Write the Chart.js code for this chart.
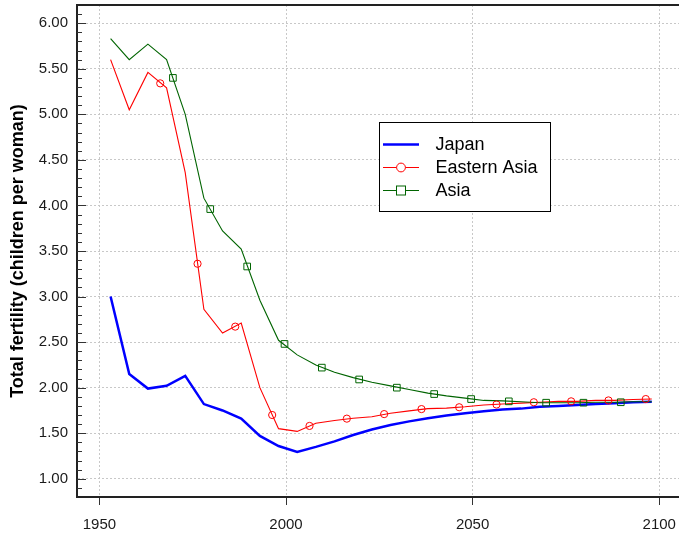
<!DOCTYPE html>
<html>
<head>
<meta charset="utf-8">
<title>Total fertility</title>
<script src="https://cdn.jsdelivr.net/npm/chart.js@4/dist/chart.umd.min.js"></script>
<style>
  html, body { margin: 0; padding: 0; background: #ffffff; }
  #wrap { width: 679px; height: 535px; }
</style>
</head>
<body>
<div id="wrap"><canvas id="fertChart" width="679" height="535"></canvas></div>
<script>
// ---------------------------------------------------------------
// Data (5-year periods)
// ---------------------------------------------------------------
const YEARS = [1953, 1958, 1963, 1968, 1973, 1978, 1983, 1988, 1993, 1998,
               2003, 2008, 2013, 2018, 2023, 2028, 2033, 2038, 2043, 2048,
               2053, 2058, 2063, 2068, 2073, 2078, 2083, 2088, 2093, 2098];

const JAPAN = [3.00, 2.15, 1.99, 2.02, 2.13, 1.82, 1.75, 1.66, 1.47, 1.36,
               1.295, 1.35, 1.41, 1.48, 1.54, 1.59, 1.63, 1.665, 1.695, 1.72,
               1.74, 1.76, 1.77, 1.79, 1.80, 1.81, 1.82, 1.83, 1.84, 1.845];

const EASTERN_ASIA = [5.60, 5.05, 5.46, 5.29, 4.36, 2.86, 2.60, 2.71, 2.00, 1.55,
                      1.52, 1.61, 1.64, 1.665, 1.68, 1.72, 1.745, 1.77, 1.775, 1.79,
                      1.81, 1.82, 1.83, 1.84, 1.85, 1.85, 1.86, 1.86, 1.87, 1.875];

const ASIA = [5.83, 5.60, 5.77, 5.60, 5.00, 4.08, 3.72, 3.52, 2.96, 2.52,
              2.36, 2.25, 2.17, 2.11, 2.06, 2.02, 1.98, 1.94, 1.91, 1.885,
              1.86, 1.855, 1.845, 1.835, 1.835, 1.835, 1.84, 1.84, 1.845, 1.845];

// symbols sit on the lines every 10 years, offset from the data points
const EA_MARK_YEARS = [1966.3, 1976.3, 1986.4, 1996.3, 2006.3, 2016.3, 2026.3,
                       2036.3, 2046.4, 2056.4, 2066.4, 2076.4, 2086.4, 2096.4];
const EA_MARK_VALUES = [5.34, 3.36, 2.67, 1.70, 1.58, 1.66, 1.71,
                        1.765, 1.785, 1.815, 1.84, 1.85, 1.86, 1.875];

const ASIA_MARK_YEARS = [1969.7, 1979.7, 1989.6, 1999.6, 2009.6, 2019.6, 2029.7,
                         2039.7, 2049.6, 2059.7, 2069.7, 2079.7, 2089.7];
const ASIA_MARK_VALUES = [5.40, 3.96, 3.33, 2.48, 2.22, 2.09, 2.00,
                          1.93, 1.875, 1.85, 1.835, 1.835, 1.84];

const X_TICKS = [1950, 2000, 2050, 2100];
const Y_TICKS = [1.0, 1.5, 2.0, 2.5, 3.0, 3.5, 4.0, 4.5, 5.0, 5.5, 6.0];

const LEGEND_LABELS = ['Japan', 'Eastern Asia', 'Asia'];
const Y_TITLE = 'Total fertility (children per woman)';

// ---------------------------------------------------------------
// Style
// ---------------------------------------------------------------
const FONT = "'Liberation Sans', Arial, sans-serif";
const COLORS = {
    japan: '#0000ff',
    eastAsia: '#ff0000',
    asia: '#006400',
    axis: '#222222',
    grid: '#c8c8c8',
    text: '#1a1a1a'
};

const toPoints = (xs, ys) => xs.map((x, i) => ({ x: x, y: ys[i] }));

// no extra room for half tick labels: the plot runs to the canvas edge
const noLabelPadding = s => {
    s.paddingTop = 0;
    s.paddingBottom = 0;
    s.paddingLeft = 0;
    s.paddingRight = 0;
};

// frame top line, inward y ticks and the boxed legend
const decorPlugin = {
    id: 'decor',
    afterDraw(chart) {
        const ctx = chart.ctx;
        const area = chart.chartArea;
        const yScale = chart.scales.y;

        ctx.save();
        // top border
        ctx.strokeStyle = COLORS.axis;
        ctx.lineWidth = 2;
        ctx.beginPath();
        ctx.moveTo(area.left - 1, area.top);
        ctx.lineTo(area.right, area.top);
        ctx.stroke();

        // y ticks (major every 0.5, minor every 0.1), pointing inwards
        ctx.lineWidth = 1;
        ctx.strokeStyle = '#333333';
        for (let k = 9; k <= 61; k++) {
            const y = Math.round(yScale.getPixelForValue(k / 10)) + 0.5;
            const len = (k % 5 === 0) ? 9 : 5;
            ctx.beginPath();
            ctx.moveTo(area.left, y);
            ctx.lineTo(area.left + len, y);
            ctx.stroke();
        }

        // legend box
        const bx = 379.5, by = 122.5, bw = 171, bh = 89;
        ctx.fillStyle = '#ffffff';
        ctx.fillRect(bx, by, bw, bh);
        ctx.strokeStyle = '#000000';
        ctx.lineWidth = 1;
        ctx.strokeRect(bx, by, bw, bh);

        const rows = [
            { color: COLORS.japan, width: 2.5, marker: null },
            { color: COLORS.eastAsia, width: 1, marker: 'circle' },
            { color: COLORS.asia, width: 1, marker: 'square' }
        ];
        const rowY = [144.5, 167.5, 190.5];
        rows.forEach((r, i) => {
            const y = rowY[i];
            ctx.strokeStyle = r.color;
            ctx.lineWidth = r.width;
            ctx.beginPath();
            ctx.moveTo(383, y);
            ctx.lineTo(419, y);
            ctx.stroke();
            ctx.lineWidth = 1;
            if (r.marker === 'circle') {
                ctx.fillStyle = '#ffffff';
                ctx.beginPath();
                ctx.arc(401, y, 4.4, 0, Math.PI * 2);
                ctx.fill();
                ctx.stroke();
            } else if (r.marker === 'square') {
                ctx.fillStyle = '#ffffff';
                ctx.fillRect(396.5, y - 4.5, 9, 9);
                ctx.strokeRect(396.5, y - 4.5, 9, 9);
            }
            ctx.fillStyle = '#000000';
            ctx.font = '18px ' + FONT;
            ctx.textAlign = 'left';
            ctx.textBaseline = 'middle';
            ctx.fillText(LEGEND_LABELS[i], 435.5, y + 0.5);
        });
        ctx.restore();
    }
};

// ---------------------------------------------------------------
// Chart
// ---------------------------------------------------------------
const ctx = document.getElementById('fertChart').getContext('2d');
const fertChart = new Chart(ctx, {
    type: 'line',
    data: {
        datasets: [
            {
                label: LEGEND_LABELS[0],
                data: toPoints(YEARS, JAPAN),
                borderColor: COLORS.japan,
                borderWidth: 2.5,
                pointRadius: 0,
                tension: 0,
                order: 3
            },
            {
                label: LEGEND_LABELS[1],
                data: toPoints(YEARS, EASTERN_ASIA),
                borderColor: COLORS.eastAsia,
                borderWidth: 1.1,
                pointRadius: 0,
                tension: 0,
                order: 2
            },
            {
                label: LEGEND_LABELS[2],
                data: toPoints(YEARS, ASIA),
                borderColor: COLORS.asia,
                borderWidth: 1.1,
                pointRadius: 0,
                tension: 0,
                order: 1
            },
            {
                label: LEGEND_LABELS[1] + ' symbols',
                data: toPoints(EA_MARK_YEARS, EA_MARK_VALUES),
                showLine: false,
                pointStyle: 'circle',
                pointRadius: 3.6,
                pointBorderWidth: 1,
                pointBorderColor: COLORS.eastAsia,
                pointBackgroundColor: 'rgba(0,0,0,0)',
                order: 0
            },
            {
                label: LEGEND_LABELS[2] + ' symbols',
                data: toPoints(ASIA_MARK_YEARS, ASIA_MARK_VALUES),
                showLine: false,
                pointStyle: 'rect',
                pointRadius: 4.7,
                pointBorderWidth: 1,
                pointBorderColor: COLORS.asia,
                pointBackgroundColor: 'rgba(0,0,0,0)',
                order: 0
            }
        ]
    },
    options: {
        responsive: false,
        animation: false,
        devicePixelRatio: 1,
        layout: {
            autoPadding: false,
            padding: { top: 5, right: 0, bottom: 0, left: 0 }
        },
        plugins: {
            legend: { display: false },
            tooltip: { enabled: false },
            title: { display: false }
        },
        scales: {
            x: {
                type: 'linear',
                min: 1944,
                max: 2105.3,
                afterBuildTicks: s => { s.ticks = X_TICKS.map(v => ({ value: v })); },
                afterFit: s => { s.height = 38; noLabelPadding(s); },
                ticks: {
                    autoSkip: false,
                    maxRotation: 0,
                    padding: 11,
                    color: COLORS.text,
                    font: { family: FONT, size: 15 },
                    callback: v => String(v)
                },
                grid: {
                    color: COLORS.grid,
                    lineWidth: 1,
                    drawTicks: true,
                    tickLength: 8,
                    tickColor: '#333333',
                    tickWidth: 1
                },
                border: { display: true, color: COLORS.axis, width: 2, dash: [2, 2] }
            },
            y: {
                type: 'linear',
                min: 0.8,
                max: 6.2,
                afterBuildTicks: s => { s.ticks = Y_TICKS.map(v => ({ value: v })); },
                afterFit: s => { s.width = 77; noLabelPadding(s); },
                ticks: {
                    autoSkip: false,
                    padding: 9,
                    color: COLORS.text,
                    font: { family: FONT, size: 15 },
                    callback: v => Number(v).toFixed(2)
                },
                grid: {
                    color: COLORS.grid,
                    lineWidth: 1,
                    drawTicks: false
                },
                border: { display: true, color: COLORS.axis, width: 2, dash: [2, 2] },
                title: {
                    display: true,
                    text: Y_TITLE,
                    color: '#000000',
                    font: { family: FONT, size: 18, weight: 'bold' },
                    padding: { top: 7, bottom: 0 }
                }
            }
        }
    },
    plugins: [decorPlugin]
});
</script>
</body>
</html>
